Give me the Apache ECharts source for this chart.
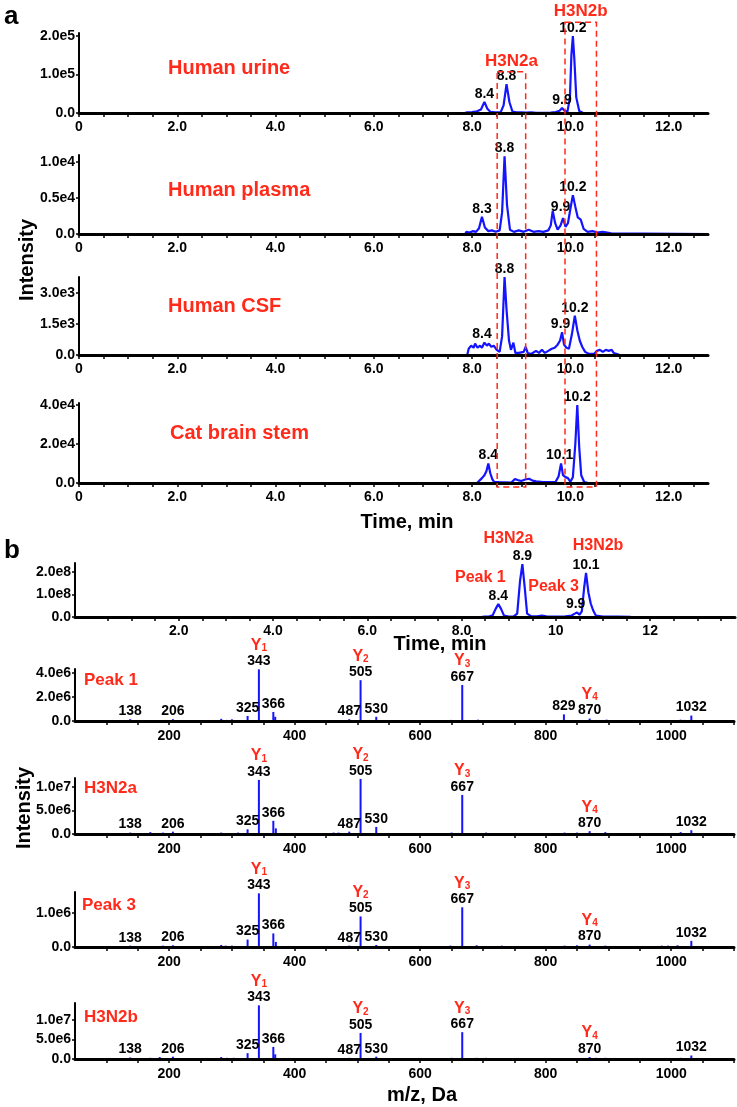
<!DOCTYPE html>
<html><head><meta charset="utf-8">
<script src="https://cdn.jsdelivr.net/npm/echarts@6/dist/echarts.min.js"></script>
<style>html,body{margin:0;padding:0;background:#fff}#c{width:737px;height:1107px}</style>
</head><body><div id="c"></div>
<script>
// ================= DATA =================
// Panel a time axis
const aTimeTicks = [0,0.5,1,1.5,2,2.5,3,3.5,4,4.5,5,5.5,6,6.5,7,7.5,8,8.5,9,9.5,10,10.5,11,11.5,12,12.5];
const aTimeLabelValues = [0,2,4,6,8,10,12];
const aTimeLabelText = ['0','2.0','4.0','6.0','8.0','10.0','12.0'];
// Panel b chromatogram time axis
const bTimeTicks = [0.5,1,1.5,2,2.5,3,3.5,4,4.5,5,5.5,6,6.5,7,7.5,8,8.5,9,9.5,10,10.5,11,11.5,12,12.5,13,13.5];
const bTimeLabelValues = [2,4,6,8,10,12];
const bTimeLabelText = ['2.0','4.0','6.0','8.0','10','12'];
// m/z axis
const mzTicks = [100,150,200,250,300,350,400,450,500,550,600,650,700,750,800,850,900,950,1000,1050,1100];
const mzLabelValues = [200,400,600,800,1000];
const mzLabelText = ['200','400','600','800','1000'];

// Sample names
const sampleNames = ['Human urine','Human plasma','Human CSF','Cat brain stem'];
const spectrumNames = ['Peak 1','H3N2a','Peak 3','H3N2b'];

// Y tick values / labels
const urineYTicks = [0,100000,200000];   const urineYText = ['0.0','1.0e5','2.0e5'];
const plasmaYTicks = [0,5000,10000];     const plasmaYText = ['0.0','0.5e4','1.0e4'];
const csfYTicks = [0,1500,3000];         const csfYText = ['0.0','1.5e3','3.0e3'];
const catYTicks = [0,20000,40000];       const catYText = ['0.0','2.0e4','4.0e4'];
const bChromYTicks = [0,1e8,2e8];        const bChromYText = ['0.0','1.0e8','2.0e8'];
const spec1YTicks = [0,2e6,4e6];         const spec1YText = ['0.0','2.0e6','4.0e6'];
const spec2YTicks = [0,5e6,1e7];         const spec2YText = ['0.0','5.0e6','1.0e7'];
const spec3YTicks = [0,1e6];             const spec3YText = ['0.0','1.0e6'];
const spec4YTicks = [0,5e6,1e7];         const spec4YText = ['0.0','5.0e6','1.0e7'];

// Chromatogram traces [time, intensity]
const urineTrace = [[0,0],[7.85,0],[7.9,2000],[8.0,2500],[8.1,4500],[8.18,9000],[8.25,29000],[8.31,11000],[8.37,3000],[8.47,1500],[8.58,1500],[8.64,20000],[8.70,75000],[8.76,28000],[8.82,4000],[8.9,1500],[9.0,2000],[9.1,1000],[9.2,2000],[9.3,500],[9.5,500],[9.6,1000],[9.7,2500],[9.78,6000],[9.83,13000],[9.88,6000],[9.94,3500],[9.99,40000],[10.02,150000],[10.05,200000],[10.08,140000],[10.12,40000],[10.18,5000],[10.26,0],[12.8,0]];
const plasmaTrace = [[0,0],[7.86,0],[7.88,300],[7.95,200],[8.02,400],[8.08,300],[8.14,800],[8.2,2400],[8.26,900],[8.33,400],[8.4,500],[8.48,300],[8.56,500],[8.61,3000],[8.66,10800],[8.71,4000],[8.77,600],[8.85,300],[8.95,500],[9.05,300],[9.15,600],[9.25,300],[9.35,400],[9.45,300],[9.55,500],[9.6,1200],[9.64,3200],[9.69,1500],[9.74,600],[9.8,1200],[9.85,2200],[9.9,1000],[9.95,1500],[10.0,3500],[10.05,5400],[10.1,3800],[10.15,2300],[10.21,2000],[10.27,700],[10.35,300],[10.45,400],[10.55,200],[10.65,300],[10.75,200],[10.83,100],[10.85,0],[12.8,0]];
const csfTrace = [[0,0],[7.9,0],[7.93,300],[7.98,450],[8.03,350],[8.06,550],[8.11,350],[8.16,450],[8.2,350],[8.25,600],[8.3,450],[8.34,550],[8.39,400],[8.44,450],[8.5,250],[8.56,150],[8.61,900],[8.66,3770],[8.7,2200],[8.75,700],[8.79,250],[8.84,600],[8.88,100],[8.95,100],[9.05,150],[9.09,400],[9.13,100],[9.2,50],[9.3,200],[9.36,100],[9.42,250],[9.48,100],[9.55,200],[9.62,300],[9.68,350],[9.74,500],[9.79,700],[9.83,1100],[9.87,500],[9.92,350],[9.97,300],[10.03,1000],[10.09,1900],[10.14,1200],[10.19,700],[10.24,400],[10.3,150],[10.38,50],[10.48,50],[10.54,200],[10.6,250],[10.66,150],[10.72,250],[10.78,200],[10.84,250],[10.88,100],[10.95,50],[11.0,0],[12.8,0]];
const catTrace = [[0,0],[8.1,0],[8.13,1000],[8.2,2500],[8.25,4000],[8.29,6000],[8.33,10000],[8.37,5000],[8.41,2000],[8.45,500],[8.55,400],[8.68,300],[8.8,200],[8.87,2000],[8.93,1500],[9.0,1000],[9.08,1800],[9.16,2200],[9.23,1200],[9.3,800],[9.45,500],[9.6,400],[9.7,600],[9.76,3500],[9.81,10000],[9.85,4000],[9.9,3000],[9.95,2500],[10.0,600],[10.05,3000],[10.1,20000],[10.14,40000],[10.18,18000],[10.22,4000],[10.28,500],[10.35,100],[10.45,0],[12.8,0]];
const bChromTrace = [[-0.2,0],[8.42,0],[8.48,1.5e6],[8.58,2e6],[8.66,8e6],[8.72,3.5e7],[8.78,5.8e7],[8.84,3.5e7],[8.9,6e6],[9.0,2e6],[9.1,2e6],[9.18,1.5e7],[9.24,1.6e8],[9.29,2.35e8],[9.34,1.3e8],[9.39,1.5e7],[9.48,3e6],[9.6,3e6],[9.7,6e6],[9.8,3e6],[10.0,2e6],[10.2,3e6],[10.33,6e6],[10.4,1.5e7],[10.45,2e7],[10.5,1e7],[10.55,2.5e7],[10.6,1.3e8],[10.64,1.96e8],[10.69,1.1e8],[10.74,6e7],[10.79,3e7],[10.85,6e6],[11.0,2e6],[11.3,2e6],[11.59,1e6],[13.8,0]];

// Peak annotations [time, intensity, label]
const urinePeaks = [[8.25,29000,'8.4'],[8.70,75000,'8.8'],[9.83,13000,'9.9'],[10.05,200000,'10.2']];
const plasmaPeaks = [[8.2,2400,'8.3'],[8.66,10800,'8.8'],[9.8,2600,'9.9'],[10.05,5400,'10.2']];
const csfPeaks = [[8.2,600,'8.4'],[8.66,3770,'8.8'],[9.8,1100,'9.9'],[10.09,1900,'10.2']];
const catPeaks = [[8.33,10000,'8.4'],[9.78,10000,'10.1'],[10.14,40000,'10.2']];
const bChromPeaks = [[8.78,5.8e7,'8.4'],[9.29,2.35e8,'8.9'],[10.42,2e7,'9.9'],[10.64,1.96e8,'10.1']];
const bChromPeakNames = ['Peak 1','H3N2a','Peak 3','H3N2b'];

// Boxes around glycan peaks (time range; top in urine-chart units; bottom in cat-chart units)
const boxes = [
  {name:'H3N2a', t0:8.51, t1:9.09, top:107000},
  {name:'H3N2b', t0:9.89, t1:10.53, top:236000}
];
const boxBottom = -2000;

// MS/MS spectra [m/z, intensity]
const peak1Spectrum = [[138,1.5e5],[165,0.5e5],[185,0.6e5],[206,1.5e5],[250,0.4e5],[283,1.8e5],[292,0.9e5],[300,1.4e5],[308,0.7e5],[325,4.2e5],[343,4.3e6],[366,7.5e5],[369,3.5e5],[400,0.4e5],[461,0.7e5],[487,1.5e5],[505,3.4e6],[530,3.5e5],[545,0.6e5],[590,0.4e5],[632,0.6e5],[649,0.9e5],[667,3.0e6],[692,1.1e5],[709,0.7e5],[735,0.5e5],[800,0.4e5],[829,5.5e5],[852,0.7e5],[870,2.0e5],[897,1.1e5],[923,0.7e5],[972,0.6e5],[1015,1.1e5],[1021,0.9e5],[1032,4.5e5],[1045,0.4e5]];
const h3n2aSpectrum = [[138,3e5],[170,4e5],[190,3e5],[206,5e5],[268,2e5],[283,3e5],[290,2e5],[300,2e5],[310,3e5],[325,1.0e6],[343,1.15e7],[366,2.8e6],[370,1.2e6],[385,2e5],[462,3e5],[470,3e5],[487,5e5],[505,1.17e7],[530,1.5e6],[560,2e5],[630,2e5],[650,3e5],[667,8.3e6],[705,3e5],[730,2e5],[830,3e5],[850,3e5],[870,6e5],[895,4e5],[945,2e5],[1015,4e5],[1032,8e5]];
const peak3Spectrum = [[130,3e4],[138,4e4],[170,3e4],[190,4e4],[206,5e4],[250,3e4],[283,6e4],[290,4e4],[300,4e4],[308,3e4],[325,2.2e5],[343,1.58e6],[366,4.0e5],[370,1.5e5],[450,3e4],[487,4e4],[505,9.0e5],[530,6e4],[545,3e4],[570,3e4],[648,4e4],[667,1.17e6],[690,5e4],[705,3e4],[730,4e4],[750,3e4],[800,3e4],[830,4e4],[850,5e4],[870,7e4],[895,4e4],[950,3e4],[985,4e4],[995,4e4],[1010,5e4],[1032,1.8e5]];
const h3n2bSpectrum = [[138,4e5],[170,3e5],[185,5e5],[206,6e5],[270,2e5],[283,5e5],[292,3e5],[303,3e5],[325,1.5e6],[343,1.38e7],[366,3.1e6],[369,1.2e6],[385,2e5],[468,2e5],[487,3e5],[505,6.7e6],[530,6e5],[560,2e5],[650,3e5],[667,6.9e6],[690,3e5],[705,3e5],[830,2e5],[850,2e5],[870,5e5],[880,3e5],[895,3e5],[912,2e5],[1015,3e5],[1032,9e5]];

// Labelled fragment ions
const peak1Labels = [138,206,325,343,366,487,505,530,667,829,870,1032];
const commonLabels = [138,206,325,343,366,487,505,530,667,870,1032];
const yIons = {343:'1',505:'2',667:'3',870:'4'};

// ================= STYLE / LAYOUT =================
const FONT = '"Liberation Sans", Arial, Helvetica, sans-serif';
const BLUE = '#1414ff';
const RED = '#ff2a1a';
const TICKFONT = {color:'#000', fontWeight:'bold', fontSize:14, fontFamily:FONT};

const gridDefs = [
  {left:79, top:33,  width:629, height:80},
  {left:79, top:155, width:629, height:79},
  {left:79, top:277, width:629, height:78},
  {left:79, top:403, width:629, height:80},
  {left:75, top:563, width:660, height:54},
  {left:75, top:669, width:659, height:52},
  {left:75, top:778, width:659, height:56},
  {left:75, top:892, width:659, height:55},
  {left:75, top:1003,width:659, height:56}
];

function xAx(gi, min, max, ticks, vals, txt, margin) {
  return {
    type:'value', gridIndex:gi, min:min, max:max, z:5,
    axisLine:{show:true, onZero:false, lineStyle:{color:'#000', width:3}},
    axisTick:{show:true, customValues:ticks, length:4, lineStyle:{color:'#000', width:1.5}},
    axisLabel:Object.assign({show:true, customValues:vals, margin:margin,
      formatter:function(v){ const i = vals.indexOf(v); return i>=0 ? txt[i] : ''; }}, TICKFONT),
    splitLine:{show:false}, minorTick:{show:false}
  };
}
function yAx(gi, max, vals, txt) {
  return {
    type:'value', gridIndex:gi, min:0, max:max, z:5,
    axisLine:{show:true, onZero:false, lineStyle:{color:'#000', width:2}},
    axisTick:{show:true, customValues:vals, length:3, lineStyle:{color:'#000', width:1.5}},
    axisLabel:Object.assign({show:true, customValues:vals, margin:4,
      formatter:function(v){ const i = vals.indexOf(v); return i>=0 ? txt[i] : ''; }}, TICKFONT),
    splitLine:{show:false}
  };
}

const xAxes = [
  xAx(0, 0, 12.8, aTimeTicks, aTimeLabelValues, aTimeLabelText, 7),
  xAx(1, 0, 12.8, aTimeTicks, aTimeLabelValues, aTimeLabelText, 7),
  xAx(2, 0, 12.8, aTimeTicks, aTimeLabelValues, aTimeLabelText, 7),
  xAx(3, 0, 12.8, aTimeTicks, aTimeLabelValues, aTimeLabelText, 7),
  xAx(4, -0.2, 13.8, bTimeTicks, bTimeLabelValues, bTimeLabelText, 7),
  xAx(5, 50, 1100, mzTicks, mzLabelValues, mzLabelText, 8),
  xAx(6, 50, 1100, mzTicks, mzLabelValues, mzLabelText, 8),
  xAx(7, 50, 1100, mzTicks, mzLabelValues, mzLabelText, 8),
  xAx(8, 50, 1100, mzTicks, mzLabelValues, mzLabelText, 8)
];
const yAxes = [
  yAx(0, 208000, urineYTicks, urineYText),
  yAx(1, 10970, plasmaYTicks, plasmaYText),
  yAx(2, 3770, csfYTicks, csfYText),
  yAx(3, 41000, catYTicks, catYText),
  yAx(4, 2.4e8, bChromYTicks, bChromYText),
  yAx(5, 4.33e6, spec1YTicks, spec1YText),
  yAx(6, 1.19e7, spec2YTicks, spec2YText),
  yAx(7, 1.62e6, spec3YTicks, spec3YText),
  yAx(8, 1.44e7, spec4YTicks, spec4YText)
];

const HIDDEN_SYMBOL = {symbolSize:0, itemStyle:{color:'#000', opacity:1}};
const series = [];
function traceSeries(gi, data) {
  series.push({type:'line', xAxisIndex:gi, yAxisIndex:gi, data:data, showSymbol:false, symbol:'none',
    lineStyle:{color:BLUE, width:2.2}, z:2, silent:true});
}
function peakLabelSeries(gi, peaks) {
  series.push(Object.assign({type:'scatter', xAxisIndex:gi, yAxisIndex:gi, z:10, silent:true,
    data:peaks.map(p => ({value:[p[0],p[1]], name:p[2]})),
    label:{show:true, position:'top', distance:1, formatter:'{b}', color:'#000', opacity:1, fontWeight:'bold', fontSize:14, fontFamily:FONT}}, HIDDEN_SYMBOL));
}
traceSeries(0, urineTrace);  peakLabelSeries(0, urinePeaks);
traceSeries(1, plasmaTrace); peakLabelSeries(1, plasmaPeaks);
traceSeries(2, csfTrace);    peakLabelSeries(2, csfPeaks);
traceSeries(3, catTrace);    peakLabelSeries(3, catPeaks);
traceSeries(4, bChromTrace); peakLabelSeries(4, bChromPeaks);
// red names over panel-b peaks
const bNameOffsets = [[-18,-17],[-14,-17],[-22,-17],[12,-18]];
series.push(Object.assign({type:'scatter', xAxisIndex:4, yAxisIndex:4, z:10, silent:true,
  data:bChromPeaks.map((p,i) => ({value:[p[0],p[1]], name:bChromPeakNames[i], label:{offset:bNameOffsets[i]}})),
  label:{show:true, position:'top', distance:1, formatter:'{b}', color:RED, opacity:1, fontWeight:'bold', fontSize:16, fontFamily:FONT}}, HIDDEN_SYMBOL));

function spectrumSeries(gi, spec, labels) {
  series.push({type:'bar', xAxisIndex:gi, yAxisIndex:gi, data:spec, barWidth:2, itemStyle:{color:BLUE}, z:2, silent:true});
  const lookup = {}; spec.forEach(p => { lookup[p[0]] = p[1]; });
  series.push(Object.assign({type:'scatter', xAxisIndex:gi, yAxisIndex:gi, z:10, silent:true,
    data:labels.map(m => ({value:[m, lookup[m]], name:String(m)})),
    label:{show:true, position:'top', distance:0, fontFamily:FONT, opacity:1,
      formatter:function(p){ const k = yIons[p.name]; return k ? '{y|Y}{s|'+k+'}\n{n|'+p.name+'}' : '{n|'+p.name+'}'; },
      rich:{
        n:{color:'#000', fontWeight:'bold', fontSize:14, fontFamily:FONT, lineHeight:16},
        y:{color:RED, fontWeight:'bold', fontSize:16, fontFamily:FONT, lineHeight:16},
        s:{color:RED, fontWeight:'bold', fontSize:10, fontFamily:FONT, lineHeight:16, verticalAlign:'bottom', padding:[8,0,0,0]}
      }}}, HIDDEN_SYMBOL));
}
spectrumSeries(5, peak1Spectrum, peak1Labels);
spectrumSeries(6, h3n2aSpectrum, commonLabels);
spectrumSeries(7, peak3Spectrum, commonLabels);
spectrumSeries(8, h3n2bSpectrum, commonLabels);

const option = {
  animation:false,
  backgroundColor:'#fff',
  textStyle:{fontFamily:FONT},
  grid:gridDefs.map(g => Object.assign({containLabel:false, outerBoundsMode:'none'}, g)),
  xAxis:xAxes, yAxis:yAxes, series:series
};

const chart = echarts.init(document.getElementById('c'), null, {renderer:'canvas', width:737, height:1107});
chart.setOption(option);

// ================= OVERLAY TEXT & BOXES =================
const g = [];
function txt(x, y, text, font, color, align, rot) {
  g.push({type:'text', x:x, y:y, rotation:rot||0, z:30,
    style:{text:text, font:font, fill:color, align:align||'left', verticalAlign:'middle'}});
}
txt(4, 17, 'a', 'bold 26px '+FONT, '#000');
txt(4, 551, 'b', 'bold 26px '+FONT, '#000');
const samplePos = [[168,68],[168,190],[168,306],[170,433]];
sampleNames.forEach((n,i) => txt(samplePos[i][0], samplePos[i][1], n, 'bold 20px '+FONT, RED));
const specPos = [[84,680],[84,788],[82,905],[84,1017]];
spectrumNames.forEach((n,i) => txt(specPos[i][0], specPos[i][1], n, 'bold 17px '+FONT, RED));
txt(407, 522, 'Time, min', 'bold 20px '+FONT, '#000', 'center');
txt(440, 644, 'Time, min', 'bold 20px '+FONT, '#000', 'center');
txt(422, 1095, 'm/z, Da', 'bold 20px '+FONT, '#000', 'center');
txt(27, 260, 'Intensity', 'bold 20px '+FONT, '#000', 'center', Math.PI/2);
txt(24, 808, 'Intensity', 'bold 20px '+FONT, '#000', 'center', Math.PI/2);

boxes.forEach(b => {
  const tl = chart.convertToPixel({gridIndex:0}, [b.t0, b.top]);
  const tr = chart.convertToPixel({gridIndex:0}, [b.t1, b.top]);
  const bl = chart.convertToPixel({gridIndex:3}, [b.t0, boxBottom]);
  g.push({type:'rect', z:25, shape:{x:tl[0], y:tl[1], width:tr[0]-tl[0], height:bl[1]-tl[1]},
    style:{fill:null, stroke:RED, lineWidth:1.5, lineDash:[6,4]}});
  txt((tl[0]+tr[0])/2, tl[1]-11, b.name, 'bold 17px '+FONT, RED, 'center');
});
chart.setOption({graphic:g});
</script>
</body></html>
